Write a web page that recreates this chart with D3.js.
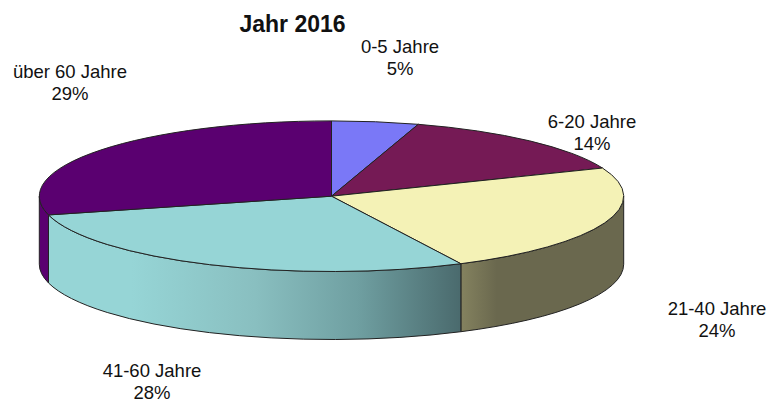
<!DOCTYPE html>
<html><head><meta charset="utf-8">
<script src="https://cdn.jsdelivr.net/npm/d3@7/dist/d3.min.js"></script>
<style>html,body{margin:0;padding:0;background:#fff}svg{display:block}text{font-family:"Liberation Sans",Arial,sans-serif;fill:#111}</style>
</head><body><svg id="c" width="768" height="403"></svg>
<script>
const categories=["0-5 Jahre","6-20 Jahre","21-40 Jahre","41-60 Jahre","über 60 Jahre"];
const percentLabels=[5,14,24,28,29];
const shares=[4.8,14.1,23.8,28.3,29];
const topColors=["#7a78f7","#751a55","#f4f2b6","#96d5d6","#5a0070"];
const labelX=[400,592,717,152,70];
const labelY=[53,128,315,377,78];
const title="Jahr 2016";
const cx=331.5,cy=196.2,rx=292.2,ry=75.3,depth=68;
const svg=d3.select("#c");
const defs=svg.append("defs");
const pie=d3.pie().sort(null).value(d=>d);
const arcs=pie(shares);
const g=svg.append("g").attr("transform",`translate(${cx},${cy}) scale(1,${ry/rx})`);
const d2=depth*rx/ry;
const arcGen=d3.arc().innerRadius(0).outerRadius(rx);
const tealG=defs.append("linearGradient").attr("id","gTeal").attr("gradientUnits","userSpaceOnUse").attr("x1",49-cx).attr("x2",461-cx).attr("y1",0).attr("y2",0);
[[0,"#96d5d6"],[0.2,"#96d5d6"],[0.5,"#89bfc0"],[0.75,"#6f9fa1"],[1,"#4a6a6d"]].forEach(s=>tealG.append("stop").attr("offset",s[0]).attr("stop-color",s[1]));
const oliveG=defs.append("linearGradient").attr("id","gOlive").attr("gradientUnits","userSpaceOnUse").attr("x1",461-cx).attr("x2",624-cx).attr("y1",0).attr("y2",0);
[[0,"#84825f"],[0.22,"#6a684e"],[1,"#6a684e"]].forEach(s=>oliveG.append("stop").attr("offset",s[0]).attr("stop-color",s[1]));
const sideFill={2:"url(#gOlive)",3:"url(#gTeal)",4:topColors[4]};
const H=Math.PI/2;
arcs.forEach((a,i)=>{
  const s=Math.max(a.startAngle,H),e=Math.min(a.endAngle,3*H);
  if(e<=s)return;
  const p=d3.path();
  p.moveTo(rx*Math.sin(s),-rx*Math.cos(s));
  p.arc(0,0,rx,s-H,e-H,false);
  p.lineTo(rx*Math.sin(e),-rx*Math.cos(e)+d2);
  p.arc(0,d2,rx,e-H,s-H,true);
  p.closePath();
  g.append("path").attr("d",p.toString()).attr("fill",sideFill[i]).attr("stroke","#222").attr("stroke-width",1).attr("vector-effect","non-scaling-stroke");
});
g.selectAll("path.top").data(arcs).enter().append("path").attr("class","top").attr("d",arcGen).attr("fill",(d,i)=>topColors[i]).attr("stroke","#222").attr("stroke-width",1).attr("vector-effect","non-scaling-stroke");
svg.append("text").attr("x",292.5).attr("y",32).attr("text-anchor","middle").attr("font-size",23).attr("font-weight","bold").text(title);
categories.forEach((c,i)=>{
  const t=svg.append("text").attr("text-anchor","middle").attr("font-size",18.5);
  t.append("tspan").attr("x",labelX[i]).attr("y",labelY[i]).text(c);
  t.append("tspan").attr("x",labelX[i]).attr("y",labelY[i]+22).text(percentLabels[i]+"%");
});
</script></body></html>
